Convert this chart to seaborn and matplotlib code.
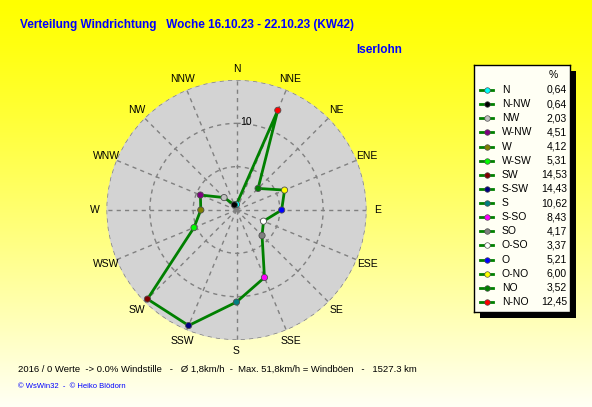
import numpy as np
import pandas as pd
import seaborn as sns
import matplotlib.pyplot as plt
from matplotlib.lines import Line2D
from matplotlib.patches import Rectangle

plt.rcParams['font.family'] = ['Liberation Sans', 'DejaVu Sans']

# legend order (as in the original box)
legend_names = ['N', 'N-NW', 'NW', 'W-NW', 'W', 'W-SW', 'SW', 'S-SW',
                'S', 'S-SO', 'SO', 'O-SO', 'O', 'O-NO', 'NO', 'N-NO']
legend_values = [0.64, 0.64, 2.03, 4.51, 4.12, 5.31, 14.53, 14.43,
                 10.62, 8.43, 4.17, 3.37, 5.21, 6.00, 3.52, 12.45]
marker_colors = ['#00ffff', '#000000', '#c0c0c0', '#800080', '#808000', '#00ff00',
                 '#800000', '#000080', '#008080', '#ff00ff', '#808080', '#ffffff',
                 '#0000ff', '#ffff00', '#008000', '#ff0000']

# compass labels, clockwise from north
compass_labels = ['N', 'NNE', 'NE', 'ENE', 'E', 'ESE', 'SE', 'SSE',
                  'S', 'SSW', 'SW', 'WSW', 'W', 'WNW', 'NW', 'NNW']
# german sector names in the same clockwise order
sector_cw = ['N', 'N-NO', 'NO', 'O-NO', 'O', 'O-SO', 'SO', 'S-SO',
             'S', 'S-SW', 'SW', 'W-SW', 'W', 'W-NW', 'NW', 'N-NW']

title = 'Verteilung Windrichtung   Woche 16.10.23 - 22.10.23 (KW42)'
station = 'Iserlohn'
footer = '2016 / 0 Werte  -> 0.0% Windstille   -   \u00d8 1,8km/h  -  Max. 51,8km/h = Windb\u00f6en   -   1527.3 km'
credit = '\u00a9 WsWin32  -  \u00a9 Heiko Bl\u00f6dorn'

val = dict(zip(legend_names, legend_values))
col = dict(zip(legend_names, marker_colors))

df = pd.DataFrame({'dir': sector_cw,
                   'theta': np.deg2rad(np.arange(16) * 22.5),
                   'pct': [val[d] for d in sector_cw]})
# close the loop
df_line = pd.concat([df, df.iloc[[0]].assign(theta=2 * np.pi)], ignore_index=True)

W, H = 592, 407
fig = plt.figure(figsize=(W / 100, H / 100), dpi=100)

# yellow gradient background
bg = fig.add_axes([0, 0, 1, 1], zorder=-10)
grad = np.linspace(0, 1, 256)
img = np.ones((256, 1, 3))
img[:, 0, 2] = grad ** 1.2 * 0.96
bg.imshow(img, aspect='auto', extent=[0, 1, 0, 1])
bg.axis('off')

# polar chart
cx, cy, rad = 236.5, 210, 130
ax = fig.add_axes([(cx - rad) / W, 1 - (cy + rad) / H, 2 * rad / W, 2 * rad / H],
                  projection='polar')
ax.set_theta_zero_location('N')
ax.set_theta_direction(-1)
ax.set_facecolor('#d3d3d3')
ax.set_ylim(0, 15)
ax.set_xticks(np.deg2rad(np.arange(16) * 22.5))
ax.set_xticklabels([])
ax.set_yticks([5, 10, 15])
ax.set_yticklabels([])
ax.grid(True, color='#808080', linestyle=(0, (3, 3)), linewidth=1)
ax.spines['polar'].set_visible(False)

sns.lineplot(data=df_line, x='theta', y='pct', sort=False, color='#008000',
             linewidth=2, ax=ax, zorder=3)
sns.scatterplot(data=df, x='theta', y='pct', hue='dir', palette=col, legend=False,
                s=20, edgecolor='#505050', linewidth=0.6, ax=ax, zorder=4)
ax.set_xlabel('')
ax.set_ylabel('')

for th, lab in zip(df['theta'], compass_labels):
    ax.text(th, 16.3, lab, ha='center', va='center', fontsize=7.5, clip_on=False)
ax.text(np.deg2rad(6.5), 10.2, '10', ha='center', va='center', fontsize=7.5)

# texts
fig.text(20 / W, 1 - 25 / H, title, color='#0000ff', fontsize=8.5,
         fontweight='bold', va='center')
fig.text(356 / W, 1 - 50 / H, station, color='#0000ff', fontsize=8.5,
         fontweight='bold', va='center')
fig.text(18 / W, 1 - 369 / H, footer, fontsize=6.8, va='center')
fig.text(18 / W, 1 - 386 / H, credit, fontsize=5.5, va='center', color='#0000ff')

# legend box
lx, ly, lw, lh = 474, 65, 96, 247
fig.patches.append(Rectangle(((lx + 6) / W, 1 - (ly + lh + 6) / H), lw / W, lh / H,
                             transform=fig.transFigure, facecolor='black',
                             edgecolor='none', zorder=1))
lax = fig.add_axes([lx / W, 1 - (ly + lh) / H, lw / W, lh / H], zorder=2)
lax.set_facecolor('#fffff4')
lax.set_xlim(0, lw)
lax.set_ylim(lh, 0)
lax.set_xticks([])
lax.set_yticks([])
for s in lax.spines.values():
    s.set_color('black')
    s.set_linewidth(1)
lax.text(79, 10, '%', ha='center', va='center', fontsize=7.5)
for i, (name, v, c) in enumerate(zip(legend_names, legend_values, marker_colors)):
    y = 25 + i * 14.13
    lax.add_line(Line2D([6, 19], [y, y], color='#008000', linewidth=2))
    lax.plot([12.5], [y], marker='o', markersize=4, color=c,
             markeredgecolor='#505050', markeredgewidth=0.5)
    lax.text(28, y, name, va='center', fontsize=7.5)
    lax.text(93, y, f'{v:.2f}'.replace('.', ','), va='center', ha='right', fontsize=7.5)

fig.savefig('out.png', dpi=100)
